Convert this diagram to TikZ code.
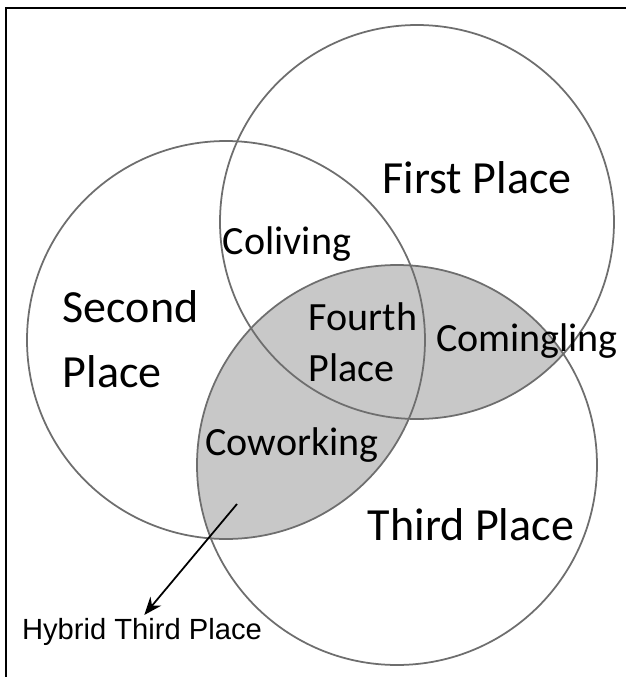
\documentclass[tikz,border=0pt]{standalone}
\usepackage{fontspec}
\setmainfont{Carlito}
\newfontfamily\arialfont{Liberation Sans}
\definecolor{shadegray}{RGB}{200, 200, 200}
\definecolor{ringgray}{RGB}{110, 110, 110}
\usetikzlibrary{arrows.meta}

\begin{document}
\begin{tikzpicture}[
    ring/.style={draw=ringgray, line width=0.5pt},
    placelabel/.style={inner sep=0pt, font=\fontsize{13.1}{18.5}\selectfont},
    overlaplabel/.style={inner sep=0pt, font=\fontsize{11.4}{14.5}\selectfont}
  ]
    \useasboundingbox (0,0) rectangle (6.26,6.77);
    \fill[white] (0,0) rectangle (6.26,6.77);
    % frame, only top and left edges show
    \draw[line width=0.6pt] (0.06,0) -- (0.06,6.69) -- (6.26,6.69);

    % shaded part: third place overlapping first or second
    \begin{scope}
        \clip (3.97,2.12) circle (2.00);
        \fill[shadegray] (4.17,4.55) circle (1.97);
        \fill[shadegray] (2.26,3.37) circle (1.99);
    \end{scope}
    \draw[ring] (4.17,4.55) circle (1.97);
    \draw[ring] (2.26,3.37) circle (1.99);
    \draw[ring] (3.97,2.12) circle (2.00);

    \node[placelabel] (first) at (4.77,4.99) {First Place};
    \node[placelabel, align=left, anchor=west] (second) at (0.62,3.38) {Second\\Place};
    \node[placelabel] (third) at (4.71,1.52) {Third Place};
    \node[overlaplabel] (coliving) at (2.87,4.33) {Coliving};
    \node[overlaplabel, align=left, anchor=west] (fourth) at (3.08,3.35) {Fourth\\Place};
    \node[overlaplabel] (comingling) at (5.27,3.36) {Comingling};
    \node[overlaplabel] (coworking) at (2.92,2.32) {Coworking};
    \node[inner sep=0pt, font=\arialfont\fontsize{8.3}{10}\selectfont] (hybrid) at (1.42,0.45) {Hybrid Third Place};

    \coordinate (hybstart) at (2.37,1.73);
    \draw[-{Stealth[length=1.8mm, width=1.4mm]}, line width=0.5pt, shorten >=1pt] (hybstart) -- (hybrid.north);
\end{tikzpicture}
\end{document}
